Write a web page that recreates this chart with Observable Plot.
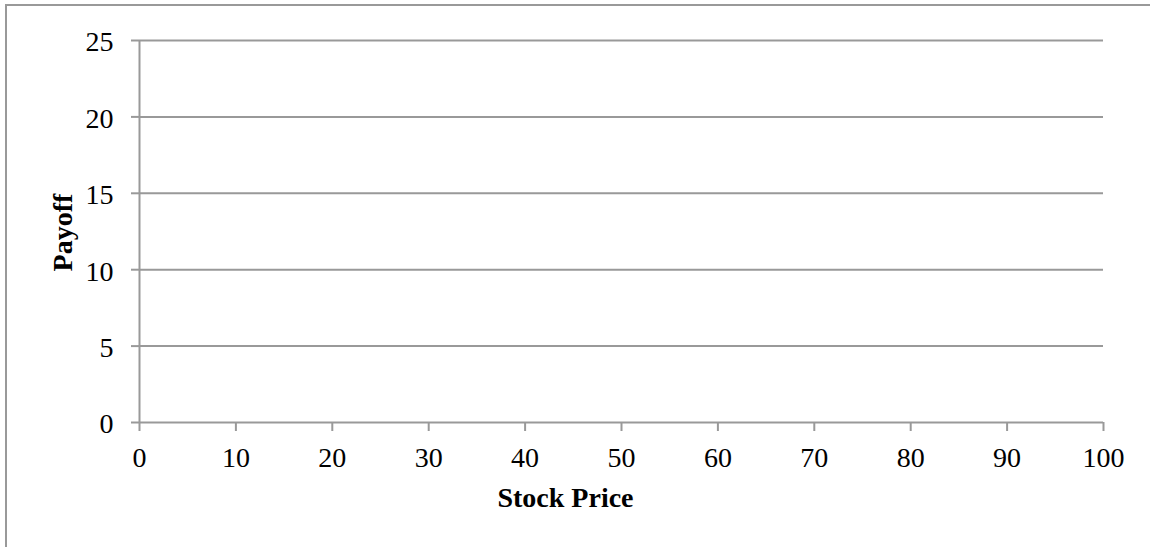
<!DOCTYPE html>
<html>
<head>
<meta charset="utf-8">
<script src="https://cdn.jsdelivr.net/npm/d3@7"></script>
<script src="https://cdn.jsdelivr.net/npm/@observablehq/plot@0.6"></script>
<style>
  html, body { margin: 0; padding: 0; background: #fff; overflow: hidden; }
  #frame { position: absolute; left: 5px; top: 4px; width: 1300px; height: 700px; border-left: 2px solid #999; border-top: 2px solid #999; }
  #chart { position: absolute; left: 0; top: 0; }
  #chart svg { font-family: "Liberation Serif", serif; }
</style>
</head>
<body>
<div id="frame"></div>
<div id="chart"></div>
<script>
const xTicks = [0, 10, 20, 30, 40, 50, 60, 70, 80, 90, 100];
const yTicks = [0, 5, 10, 15, 20, 25];
const xLabel = ["Stock Price"];
const yLabel = ["Payoff"];

const gridColor = "#999";

const chart = Plot.plot({
  width: 1150,
  height: 547,
  marginLeft: 139,
  marginRight: 47,
  marginTop: 40,
  marginBottom: 125,
  style: { fontSize: "28px", fontFamily: "Liberation Serif, serif", color: "#000", background: "transparent" },
  x: { domain: [0, 100] },
  y: { domain: [0, 25] },
  marks: [
    Plot.ruleY(yTicks.filter(d => d > 0), { stroke: gridColor, strokeWidth: 2 }),
    Plot.ruleX([0], { stroke: gridColor, strokeWidth: 2 }),
    Plot.ruleY([0], { stroke: gridColor, strokeWidth: 2 }),
    Plot.axisY({ ticks: yTicks, tickSize: 8, text: null, stroke: gridColor, strokeWidth: 2, strokeOpacity: 1, label: null }),
    Plot.axisY({ ticks: yTicks, tickSize: 0, tickPadding: 26, dy: 2, label: null, fontSize: 28 }),
    Plot.axisX({ ticks: xTicks, tickSize: 9, tickPadding: 16, stroke: gridColor, strokeWidth: 2, strokeOpacity: 1, label: null, fontSize: 28 }),
    Plot.text(xLabel, { text: d => d, frameAnchor: "bottom", dx: -56, dy: 84, fontWeight: "bold", fontSize: 28, fill: "#000" }),
    Plot.text(yLabel, { text: d => d, frameAnchor: "left", textAnchor: "middle", dx: -76, dy: 1, rotate: -90, fontWeight: "bold", fontSize: 28, fill: "#000" })
  ]
});
document.getElementById("chart").appendChild(chart);
</script>
</body>
</html>
